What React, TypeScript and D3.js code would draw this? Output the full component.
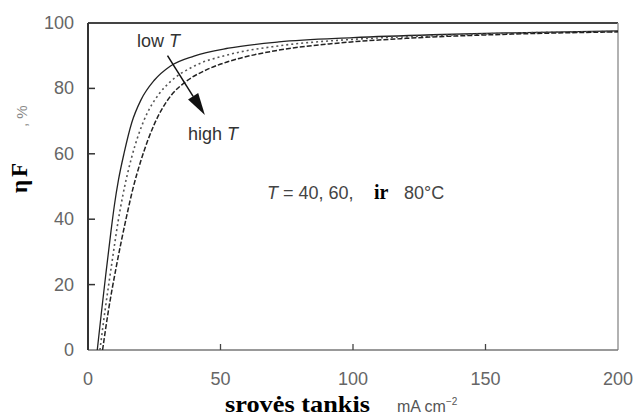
import React from "react";
import * as d3 from "d3";

// Faradaic efficiency vs current density at three temperatures
const lowT: [number, number][] = [
  [3.5, 0], [5, 11], [6.7, 23], [8.7, 36.5], [10, 44.5], [11.5, 52], [13.7, 60.5],
  [16.5, 69.5], [20, 76.5], [25, 82.5], [31, 86.8], [40, 89.9], [53, 92.3],
  [72, 94.2], [100, 95.5], [130, 96.4], [160, 97], [200, 97.6],
];
const midT: [number, number][] = [
  [4.5, 0], [6.5, 12.5], [8.9, 26], [11.4, 39.5], [13.2, 47.5], [16.5, 59],
  [21, 70], [27, 78.5], [31, 82], [40, 86.8], [53, 90.3], [72, 93], [100, 95],
  [130, 96.1], [160, 96.9], [200, 97.4],
];
const highT: [number, number][] = [
  [5.5, 0], [7.5, 11], [10.8, 26], [14.6, 41], [17, 49.5], [20, 58], [25, 69],
  [31.5, 78], [36, 81.5], [45, 85.8], [53, 88.2], [72, 91.7], [91, 93.6],
  [120, 95.3], [160, 96.6], [200, 97.3],
];

const xTicks = [0, 50, 100, 150, 200];
const yTicks = [0, 20, 40, 60, 80, 100];

const W = 636;
const H = 416;
const M = { left: 88, right: 18, top: 23, bottom: 66 };

export default function App() {
  const x = d3.scaleLinear().domain([0, 200]).range([M.left, W - M.right]);
  const y = d3.scaleLinear().domain([0, 100]).range([H - M.bottom, M.top]);
  const line = d3
    .line<[number, number]>()
    .x((d) => x(d[0]))
    .y((d) => y(d[1]))
    .curve(d3.curveMonotoneX);

  const x0 = x(0), x1 = x(200), y0 = y(0), y1 = y(100);
  const sans = "'Liberation Sans', Arial, sans-serif";
  const serif = "'Liberation Serif', 'Times New Roman', serif";

  // arrow from low T to high T
  const ax1 = x(30), ay1 = y(90);
  const ax2 = x(44.1), ay2 = y(71.9);
  const ang = Math.atan2(ay2 - ay1, ax2 - ax1);
  const hl = 22, hw = 6;
  const bx = ax2 - hl * Math.cos(ang), by = ay2 - hl * Math.sin(ang);
  const px = -Math.sin(ang) * hw, py = Math.cos(ang) * hw;

  return (
    <svg
      width={W}
      height={H}
      style={{ position: "fixed", left: 0, top: 0, background: "#fff" }}
    >
      <rect x={0} y={0} width={W} height={H} fill="#fff" />

      {/* frame */}
      <line x1={x0} y1={y1} x2={x1} y2={y1} stroke="#444" strokeWidth={2} />
      <line x1={x1} y1={y1} x2={x1} y2={y0} stroke="#999" strokeWidth={1.5} />
      <line x1={x0} y1={y0} x2={x1} y2={y0} stroke="#777" strokeWidth={1.5} />
      <line x1={x0} y1={y1} x2={x0} y2={y0} stroke="#333" strokeWidth={2} />

      {/* y ticks */}
      {yTicks.map((t) => (
        <g key={"y" + t}>
          {t > 0 && t < 100 && (
            <line x1={x0} x2={x0 + 7} y1={y(t)} y2={y(t)} stroke="#333" strokeWidth={1.5} />
          )}
          <text
            x={74}
            y={y(t)}
            textAnchor="end"
            dominantBaseline="central"
            fontFamily={sans}
            fontSize={18}
            fill="#666"
          >
            {t}
          </text>
        </g>
      ))}

      {/* x ticks */}
      {xTicks.map((t) => (
        <g key={"x" + t}>
          {t > 0 && t < 200 && (
            <line x1={x(t)} x2={x(t)} y1={y0} y2={y0 - 6} stroke="#444" strokeWidth={1.3} />
          )}
          <text
            x={x(t)}
            y={379}
            textAnchor="middle"
            dominantBaseline="central"
            fontFamily={sans}
            fontSize={18}
            fill="#666"
          >
            {t}
          </text>
        </g>
      ))}

      {/* curves */}
      <path d={line(lowT) || ""} fill="none" stroke="#222" strokeWidth={1.3} />
      <path
        d={line(midT) || ""}
        fill="none"
        stroke="#555"
        strokeWidth={1.6}
        strokeDasharray="2,3"
      />
      <path
        d={line(highT) || ""}
        fill="none"
        stroke="#222"
        strokeWidth={1.5}
        strokeDasharray="5,2"
      />

      {/* arrow */}
      <line x1={ax1} y1={ay1} x2={bx} y2={by} stroke="#111" strokeWidth={1.5} />
      <polygon
        points={`${ax2},${ay2} ${bx + px},${by + py} ${bx - px},${by - py}`}
        fill="#111"
      />

      {/* annotations */}
      <text x={x(18.5)} y={y(92.7)} fontFamily={sans} fontSize={18} fill="#333">
        low <tspan fontStyle="italic">T</tspan>
      </text>
      <text x={x(37.7)} y={y(64.2)} fontFamily={sans} fontSize={18} fill="#333">
        high <tspan fontStyle="italic">T</tspan>
      </text>
      <text x={267} y={y(46.2)} fontFamily={sans} fontSize={18} fill="#444">
        <tspan fontStyle="italic">T</tspan> = 40, 60,
        <tspan x={374} fontFamily={serif} fontWeight="bold" fill="#000" fontSize={20}>
          ir
        </tspan>
        <tspan x={404}>80°C</tspan>
      </text>

      {/* axis titles */}
      <text
        x={225}
        y={412}
        fontFamily={serif}
        fontWeight="bold"
        fontSize={23}
        fill="#000"
        textLength={145}
        lengthAdjust="spacingAndGlyphs"
      >
        srovės tankis
      </text>
      <text x={397} y={412} fontFamily={sans} fontSize={16} fill="#555">
        mA cm
        <tspan fontSize={10} dy={-7}>
          −2
        </tspan>
      </text>

      <text
        transform="translate(27,193) rotate(-90)"
        fontFamily={serif}
        fontWeight="bold"
        fontSize={23}
        fill="#000"
        letterSpacing={3}
      >
        ηF
      </text>
      <text
        transform="translate(27,127) rotate(-90)"
        fontFamily={sans}
        fontSize={15}
        fill="#888"
      >
        , %
      </text>
    </svg>
  );
}
